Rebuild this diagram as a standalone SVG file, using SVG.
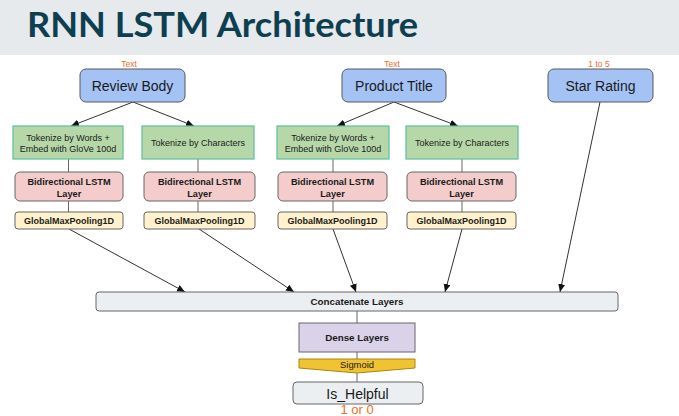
<svg xmlns="http://www.w3.org/2000/svg" width="679" height="416" viewBox="0 0 679 416">
<style>
.t{font-family:"Liberation Sans",Arial,sans-serif;fill:#1a1a1a;text-anchor:middle}
.b{font-weight:bold}
.inp{fill:#a4c2f4;stroke:#595959;stroke-width:1}
.tok{fill:#b6d7a8;stroke:#5cbf9e;stroke-width:1.2}
.lstm{fill:#f4cccc;stroke:#666;stroke-width:1}
.pool{fill:#fff2cc;stroke:#666;stroke-width:1}
.gray{fill:#eceff1;stroke:#666;stroke-width:1}
.note{font-family:"Liberation Sans",Arial,sans-serif;fill:#f26b2a;text-anchor:middle}
.arr{stroke:#333;stroke-width:1;fill:none;marker-end:url(#ah)}
.ln{stroke:#666;stroke-width:1;fill:none}
</style>
<defs>
<marker id="ah" markerUnits="userSpaceOnUse" markerWidth="8" markerHeight="8" refX="8" refY="3.5" orient="auto">
<path d="M0,0 L8,3.5 L0,7 Z" fill="#111"/>
</marker>
</defs>
<rect x="0" y="0" width="679" height="55" fill="#e7eaec"/>
<text x="27" y="37" font-family="Lato,'Open Sans',sans-serif" font-weight="bold" font-size="34" fill="#0d3f51" textLength="391" lengthAdjust="spacingAndGlyphs">RNN LSTM Architecture</text>

<g id="connectors">
<path class="arr" d="M133,102 L71,126"/>
<path class="arr" d="M133,102 L194,126"/>
<path class="arr" d="M394,102 L337,126"/>
<path class="arr" d="M394,102 L458,126"/>
<path class="ln" d="M68.5,159 V172 M68.5,201 V212"/>
<path class="ln" d="M198,159 V172 M198,201 V212"/>
<path class="ln" d="M333,159 V172 M333,201 V212"/>
<path class="ln" d="M462,159 V172 M462,201 V212"/>
<path class="arr" d="M69,229 L185,292"/>
<path class="arr" d="M199,229 L294,292"/>
<path class="arr" d="M333,229 L356,292"/>
<path class="arr" d="M462,229 L445,292"/>
<path class="arr" d="M600,102 L560,292"/>
<path class="ln" d="M357,311 V323 M357,352 V359 M357,373 V382"/>
</g>

<g id="review-body">
<rect class="inp" x="80" y="69" width="105" height="33" rx="6"/>
<text class="t" x="132.5" y="91" font-size="14">Review Body</text>
<text class="note" x="129" y="67" font-size="8.5">Text</text>
</g>
<g id="product-title">
<rect class="inp" x="342" y="69" width="104" height="33" rx="6"/>
<text class="t" x="394" y="91" font-size="14">Product Title</text>
<text class="note" x="392" y="67" font-size="8.5">Text</text>
</g>
<g id="star-rating">
<rect class="inp" x="548" y="69" width="105" height="33" rx="6"/>
<text class="t" x="600.5" y="91" font-size="14">Star Rating</text>
<text class="note" x="599" y="67" font-size="8.5">1 to 5</text>
</g>

<g id="tok-words-1">
<rect class="tok" x="13" y="126" width="110" height="33"/>
<text class="t" x="68" y="141" font-size="9">Tokenize by Words +</text>
<text class="t" x="68" y="151.5" font-size="9">Embed with GloVe 100d</text>
</g>
<g id="tok-chars-1">
<rect class="tok" x="142" y="126" width="112" height="33"/>
<text class="t" x="198" y="145.5" font-size="9">Tokenize by Characters</text>
</g>
<g id="tok-words-2">
<rect class="tok" x="277" y="126" width="112" height="33"/>
<text class="t" x="333" y="141" font-size="9">Tokenize by Words +</text>
<text class="t" x="333" y="151.5" font-size="9">Embed with GloVe 100d</text>
</g>
<g id="tok-chars-2">
<rect class="tok" x="406" y="126" width="112" height="33"/>
<text class="t" x="462" y="145.5" font-size="9">Tokenize by Characters</text>
</g>

<g id="lstm-1">
<rect class="lstm" x="15" y="172" width="108" height="29" rx="5"/>
<text class="t b" x="69" y="185" font-size="9.2">Bidirectional LSTM</text>
<text class="t b" x="69" y="197" font-size="9.2">Layer</text>
</g>
<g id="lstm-2">
<rect class="lstm" x="144" y="172" width="111" height="29" rx="5"/>
<text class="t b" x="199.5" y="185" font-size="9.2">Bidirectional LSTM</text>
<text class="t b" x="199.5" y="197" font-size="9.2">Layer</text>
</g>
<g id="lstm-3">
<rect class="lstm" x="278" y="172" width="109" height="29" rx="5"/>
<text class="t b" x="332.5" y="185" font-size="9.2">Bidirectional LSTM</text>
<text class="t b" x="332.5" y="197" font-size="9.2">Layer</text>
</g>
<g id="lstm-4">
<rect class="lstm" x="407" y="172" width="109" height="29" rx="5"/>
<text class="t b" x="461.5" y="185" font-size="9.2">Bidirectional LSTM</text>
<text class="t b" x="461.5" y="197" font-size="9.2">Layer</text>
</g>

<g id="pool-1">
<rect class="pool" x="15" y="212" width="108" height="17" rx="3"/>
<text class="t b" x="69" y="224" font-size="9">GlobalMaxPooling1D</text>
</g>
<g id="pool-2">
<rect class="pool" x="144" y="212" width="111" height="17" rx="3"/>
<text class="t b" x="199.5" y="224" font-size="9">GlobalMaxPooling1D</text>
</g>
<g id="pool-3">
<rect class="pool" x="278" y="212" width="109" height="17" rx="3"/>
<text class="t b" x="332.5" y="224" font-size="9">GlobalMaxPooling1D</text>
</g>
<g id="pool-4">
<rect class="pool" x="407" y="212" width="109" height="17" rx="3"/>
<text class="t b" x="461.5" y="224" font-size="9">GlobalMaxPooling1D</text>
</g>

<g id="concat">
<rect class="gray" x="96" y="292" width="522" height="19" rx="3"/>
<text class="t b" x="357" y="305" font-size="9.8">Concatenate Layers</text>
</g>
<g id="dense">
<rect x="299" y="323" width="116" height="29" fill="#d9d2e9" stroke="#666" stroke-width="1"/>
<text class="t b" x="357" y="341" font-size="9.8">Dense Layers</text>
</g>
<g id="sigmoid">
<path d="M299,359 H415 V368 L357,373 L299,368 Z" fill="#f1c232" stroke="#a8860e" stroke-width="1"/>
<text class="t" x="357" y="368" font-size="9.4">Sigmoid</text>
</g>
<g id="is-helpful">
<rect class="gray" x="293" y="382" width="130" height="22" rx="4"/>
<text class="t" x="357.5" y="398.5" font-size="14">Is_Helpful</text>
<text class="note" x="357" y="414" font-size="13">1 or 0</text>
</g>
</svg>
